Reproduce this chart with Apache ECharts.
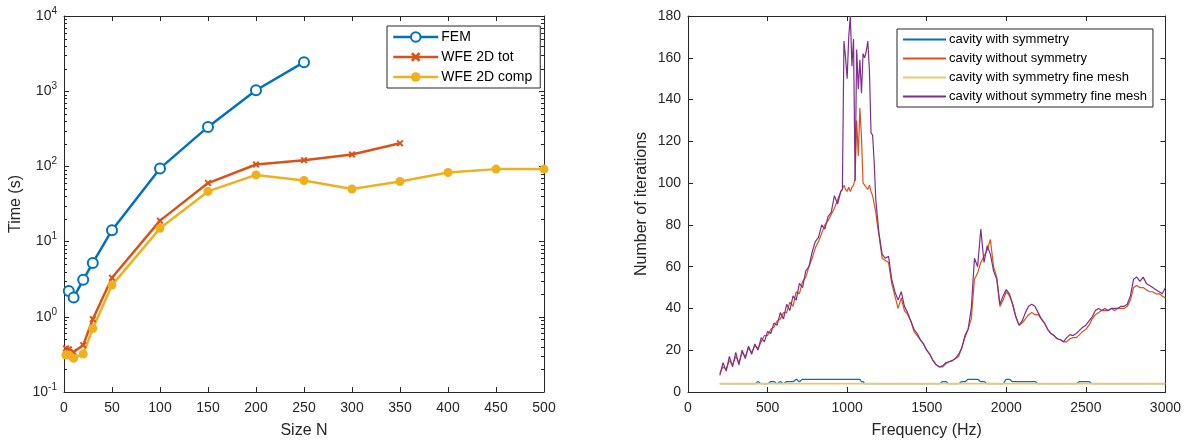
<!DOCTYPE html>
<html>
<head>
<meta charset="utf-8">
<script src="https://cdn.jsdelivr.net/npm/echarts@6/dist/echarts.min.js"></script>
<style>
html,body{margin:0;padding:0;background:#fff;}
#main{width:1184px;height:444px;}
</style>
</head>
<body>
<div id="main"></div>
<script>
// ---------- Left chart: computation time vs size ----------
const nFEM = [5, 10, 20, 30, 50, 100, 150, 200, 250];
const timeFEM = [2.2, 1.8, 3.1, 5.2, 14.2, 94, 335, 1030, 2430];
const nTot = [2, 5, 10, 20, 30, 50, 100, 150, 200, 250, 300, 350];
const timeTot = [0.38, 0.37, 0.34, 0.42, 0.93, 3.3, 19, 60, 106, 121, 144, 203];
const nComp = [2, 5, 10, 20, 30, 50, 100, 150, 200, 250, 300, 350, 400, 450, 500];
const timeComp = [0.31, 0.31, 0.28, 0.32, 0.70, 2.64, 15, 46.5, 77, 65, 50, 63, 83, 92, 92];
const leftNames = ['FEM', 'WFE 2D tot', 'WFE 2D comp'];

// ---------- Right chart: iterations vs frequency ----------
const freq = [
  200,220,240,260,280,300,320,340,360,380,
  400,420,440,460,480,500,520,540,560,580,
  600,620,640,660,680,700,720,740,760,780,
  800,820,840,860,880,900,920,940,
  950,960,970,980,990,1000,1010,1020,1030,1040,
  1050,1060,1070,1080,1090,1100,1110,1120,1130,1140,
  1150,1160,1170,1180,1190,1200,
  1220,1240,1260,1280,1300,1320,1340,1360,1380,1400,
  1420,1440,1460,1480,1500,1520,1540,1560,1580,1600,
  1620,1640,1660,1680,1700,1720,1740,1760,1780,1800,
  1820,1840,1860,1880,1900,1920,1940,1960,1980,2000,
  2020,2040,2060,2080,2100,2120,2140,2160,2180,2200,
  2220,2240,2260,2280,2300,2320,2340,2360,2380,2400,
  2420,2440,2460,2480,2500,2520,2540,2560,2580,2600,
  2620,2640,2660,2680,2700,2720,2740,2760,2780,2800,
  2820,2840,2860,2880,2900,2920,2940,2960,2980,3000
];
const itWithSym = [
  4,4,4,4,4,4,4,4,4,4,
  4,4,5,4,4,4,5,5,4,5,
  4,5,5,5,6,5,6,6,6,6,
  6,6,6,6,6,6,6,6,
  6,6,6,6,6,6,6,6,6,6,
  6,6,6,6,5,5,4,4,4,4,
  4,4,4,4,4,4,
  4,4,4,4,4,4,4,4,4,4,
  4,4,4,4,4,4,4,4,4,5,
  5,4,4,4,4,5,5,6,6,6,
  6,5,5,4,4,4,4,4,4,6,
  6,5,5,5,5,5,5,5,5,4,
  4,4,4,4,4,4,4,4,4,4,
  4,4,5,5,5,5,4,4,4,4,
  4,4,4,4,4,4,4,4,4,4,
  4,4,4,4,4,4,4,4,4,4
];
const itWithoutSym = [
  9,12,11,15,13,17,14,19,17,21,
  19,22,21,24,27,27,30,31,34,35,
  38,38,43,41,48,47,53,55,60,64,
  69,72,76,80,82,85,88,92,
  94,96,97,99,97,96,98,96,98,99,
  102,130,113,136,122,100,99,98,97,99,
  96,94,90,86,80,75,
  64,63,62,52,46,40,45,39,37,34,
  29,27,25,23,20,18,15,13,12,12,
  13.5,14.5,15,16,17,21,26,30,35,54,
  57,62,65,68,73,60,55,41,44,48,
  46,42,36,32,33,35,37,38,37,37,
  35,33,30,28,27,25.5,25,24,24,25.5,
  26,26,27.5,29,30,32,35,37,38,39,
  39,39,40,39,40,40,40,41,44,50,
  51,50,50,49,48,48,47,47,46,45
];
const fineFreq = [200, 3000];
const itWithSymFine = [4, 4];
const itWithoutSymFine = [
  8,14,10,17,12,19,13,20,16,22,
  18,23,20,26,24,29,28,33,32,38,
  35,42,39,46,44,52,50,58,60,67,
  72,74,80,78,84,86,94,90,
  93,96,97,168,160,150,170,180,156,169,
  101,164,145,159,143,162,160,163,168,154,
  124,123,110,92,84,76,
  66,64,65,54,48,44,48,41,38,34,
  30,28,25,23,20,18,15,13,12,12.5,
  14,14.5,15,16,18,21,27,30,40,64,
  60,78,62,70,66,58,54,42,46,49,
  47,42,36,32,34,38,41,42,41,38,
  35,33,30,28,27,25.5,25,24,26,27.5,
  27,28,29.5,31,32,34,36,39,40,39,
  40,39,40,40,40,41,41,42,46,54,
  55,53,55,52,51,50,49,48,47,50
];
const rightNames = ['cavity with symmetry', 'cavity without symmetry',
  'cavity with symmetry fine mesh', 'cavity without symmetry fine mesh'];

// ---------- helpers ----------
const zip = (xs, ys) => xs.map((x, i) => [x, ys[i]]);
const AX = '#262626';
const FONT = '"Liberation Sans", Arial, Helvetica, sans-serif';
const C = ['#0072BD', '#D95319', '#EDB120', '#7E2F8E'];

// log minor tick positions (2..9 per decade)
const minorVals = [];
for (let e = -1; e < 4; e++) for (let k = 2; k <= 9; k++) minorVals.push(k * Math.pow(10, e));

function baseAxis(extra) {
  return Object.assign({
    axisLine: {show: true, onZero: false, lineStyle: {color: AX, width: 1}},
    axisTick: {show: true, inside: true, length: 5, lineStyle: {color: AX, width: 1}},
    axisLabel: {color: AX, fontSize: 14, fontFamily: FONT},
    splitLine: {show: false},
    minorTick: {show: false},
    nameTextStyle: {color: AX, fontSize: 16, fontFamily: FONT}
  }, extra);
}
const noLabel = {show: false};
const plain = v => String(v);

const crossPath = 'path://M2,0 L5,3 L8,0 L10,2 L7,5 L10,8 L8,10 L5,7 L2,10 L0,8 L3,5 L0,2 Z';

const option = {
  backgroundColor: '#fff',
  animation: false,
  textStyle: {fontFamily: FONT},
  grid: [
    {left: 64, top: 16, width: 480, height: 377},
    {left: 688, top: 16, width: 480, height: 377}
  ],
  xAxis: [
    baseAxis({type: 'value', gridIndex: 0, min: 0, max: 500, interval: 50,
      name: 'Size N', nameLocation: 'middle', nameGap: 31,
      axisLabel: {color: AX, fontSize: 14, fontFamily: FONT, margin: 9, formatter: plain}}),
    baseAxis({type: 'value', gridIndex: 0, min: 0, max: 500, interval: 50, position: 'top', axisLabel: noLabel}),
    baseAxis({type: 'value', gridIndex: 1, min: 0, max: 3000, interval: 500,
      name: 'Frequency (Hz)', nameLocation: 'middle', nameGap: 31,
      axisLabel: {color: AX, fontSize: 14, fontFamily: FONT, margin: 9, formatter: plain}}),
    baseAxis({type: 'value', gridIndex: 1, min: 0, max: 3000, interval: 500, position: 'top', axisLabel: noLabel})
  ],
  yAxis: [
    baseAxis({type: 'log', logBase: 10, gridIndex: 0, min: 0.1, max: 10000,
      name: 'Time (s)', nameLocation: 'middle', nameGap: 40,
      axisLabel: {
        color: AX, fontFamily: FONT, margin: 7,
        formatter: function (v) {
          const e = Math.round(Math.log10(v));
          return '{b|10}{s|' + e + '}';
        },
        rich: {
          b: {fontSize: 14, color: AX, fontFamily: FONT},
          s: {fontSize: 10, color: AX, fontFamily: FONT, padding: [0, 0, 10, 0]}
        }
      }}),
    baseAxis({type: 'log', logBase: 10, gridIndex: 0, min: 0.1, max: 10000, position: 'right', axisLabel: noLabel}),
    baseAxis({type: 'value', gridIndex: 1, min: 0, max: 180, interval: 20,
      name: 'Number of iterations', nameLocation: 'middle', nameGap: 38,
      axisLabel: {color: AX, fontSize: 14, fontFamily: FONT, margin: 7, formatter: plain}}),
    baseAxis({type: 'value', gridIndex: 1, min: 0, max: 180, interval: 20, position: 'right', axisLabel: noLabel})
  ],
  legend: [
    {
      data: leftNames, orient: 'vertical', left: 387, top: 26,
      itemWidth: 45, itemHeight: 12, itemGap: 6,
      borderColor: AX, borderWidth: 1, borderRadius: 0, padding: [4, 8, 4, 5],
      backgroundColor: '#fff',
      lineStyle: {width: 2.5},
      textStyle: {fontSize: 14, color: '#000', fontFamily: FONT, padding: [0, 0, 0, -2]}
    },
    {
      data: rightNames, orient: 'vertical', left: 897, top: 29,
      itemWidth: 43, itemHeight: 12, itemGap: 6,
      borderColor: AX, borderWidth: 1, borderRadius: 0, padding: [4, 6, 4, 5],
      backgroundColor: '#fff',
      itemStyle: {opacity: 0},
      textStyle: {fontSize: 13, color: '#000', fontFamily: FONT, padding: [0, 0, 0, -2]}
    }
  ],
  series: [
    {
      type: 'custom', xAxisIndex: 0, yAxisIndex: 0, silent: true, clip: false,
      data: minorVals.map(v => [0, v]),
      renderItem: function (params, api) {
        const v = api.value(1);
        const l = api.coord([0, v]);
        const r = api.coord([500, v]);
        const y = Math.round(l[1]) + 0.5;
        return {type: 'group', children: [
          {type: 'line', shape: {x1: l[0], y1: y, x2: l[0] + 3, y2: y}, style: {stroke: AX, lineWidth: 1}},
          {type: 'line', shape: {x1: r[0] - 3, y1: y, x2: r[0], y2: y}, style: {stroke: AX, lineWidth: 1}}
        ]};
      }
    },
    {
      name: leftNames[0], type: 'line', xAxisIndex: 0, yAxisIndex: 0,
      data: zip(nFEM, timeFEM), symbol: 'emptyCircle', symbolSize: 10,
      lineStyle: {color: C[0], width: 2.5}, itemStyle: {color: C[0], borderWidth: 2}
    },
    {
      name: leftNames[1], type: 'line', xAxisIndex: 0, yAxisIndex: 0,
      data: zip(nTot, timeTot), symbol: crossPath, symbolSize: 7,
      lineStyle: {color: C[1], width: 2.5}, itemStyle: {color: C[1]}
    },
    {
      name: leftNames[2], type: 'line', xAxisIndex: 0, yAxisIndex: 0,
      data: zip(nComp, timeComp), symbol: 'circle', symbolSize: 9,
      lineStyle: {color: C[2], width: 2.5}, itemStyle: {color: C[2]}
    },
    {
      name: rightNames[0], type: 'line', xAxisIndex: 2, yAxisIndex: 2,
      data: zip(freq, itWithSym), symbol: 'none', smooth: 0.3,
      lineStyle: {color: C[0], width: 1.2}, itemStyle: {color: C[0]}
    },
    {
      name: rightNames[1], type: 'line', xAxisIndex: 2, yAxisIndex: 2,
      data: zip(freq, itWithoutSym), symbol: 'none',
      lineStyle: {color: C[1], width: 1.2}, itemStyle: {color: C[1]}
    },
    {
      name: rightNames[2], type: 'line', xAxisIndex: 2, yAxisIndex: 2,
      data: zip(fineFreq, itWithSymFine), symbol: 'none',
      lineStyle: {color: '#F0C66A', width: 1.8}, itemStyle: {color: '#F0C66A'}
    },
    {
      name: rightNames[3], type: 'line', xAxisIndex: 2, yAxisIndex: 2,
      data: zip(freq, itWithoutSymFine), symbol: 'none',
      lineStyle: {color: C[3], width: 1.2}, itemStyle: {color: C[3]}
    }
  ]
};

const chart = echarts.init(document.getElementById('main'), null, {renderer: 'canvas'});
chart.setOption(option);
</script>
</body>
</html>
